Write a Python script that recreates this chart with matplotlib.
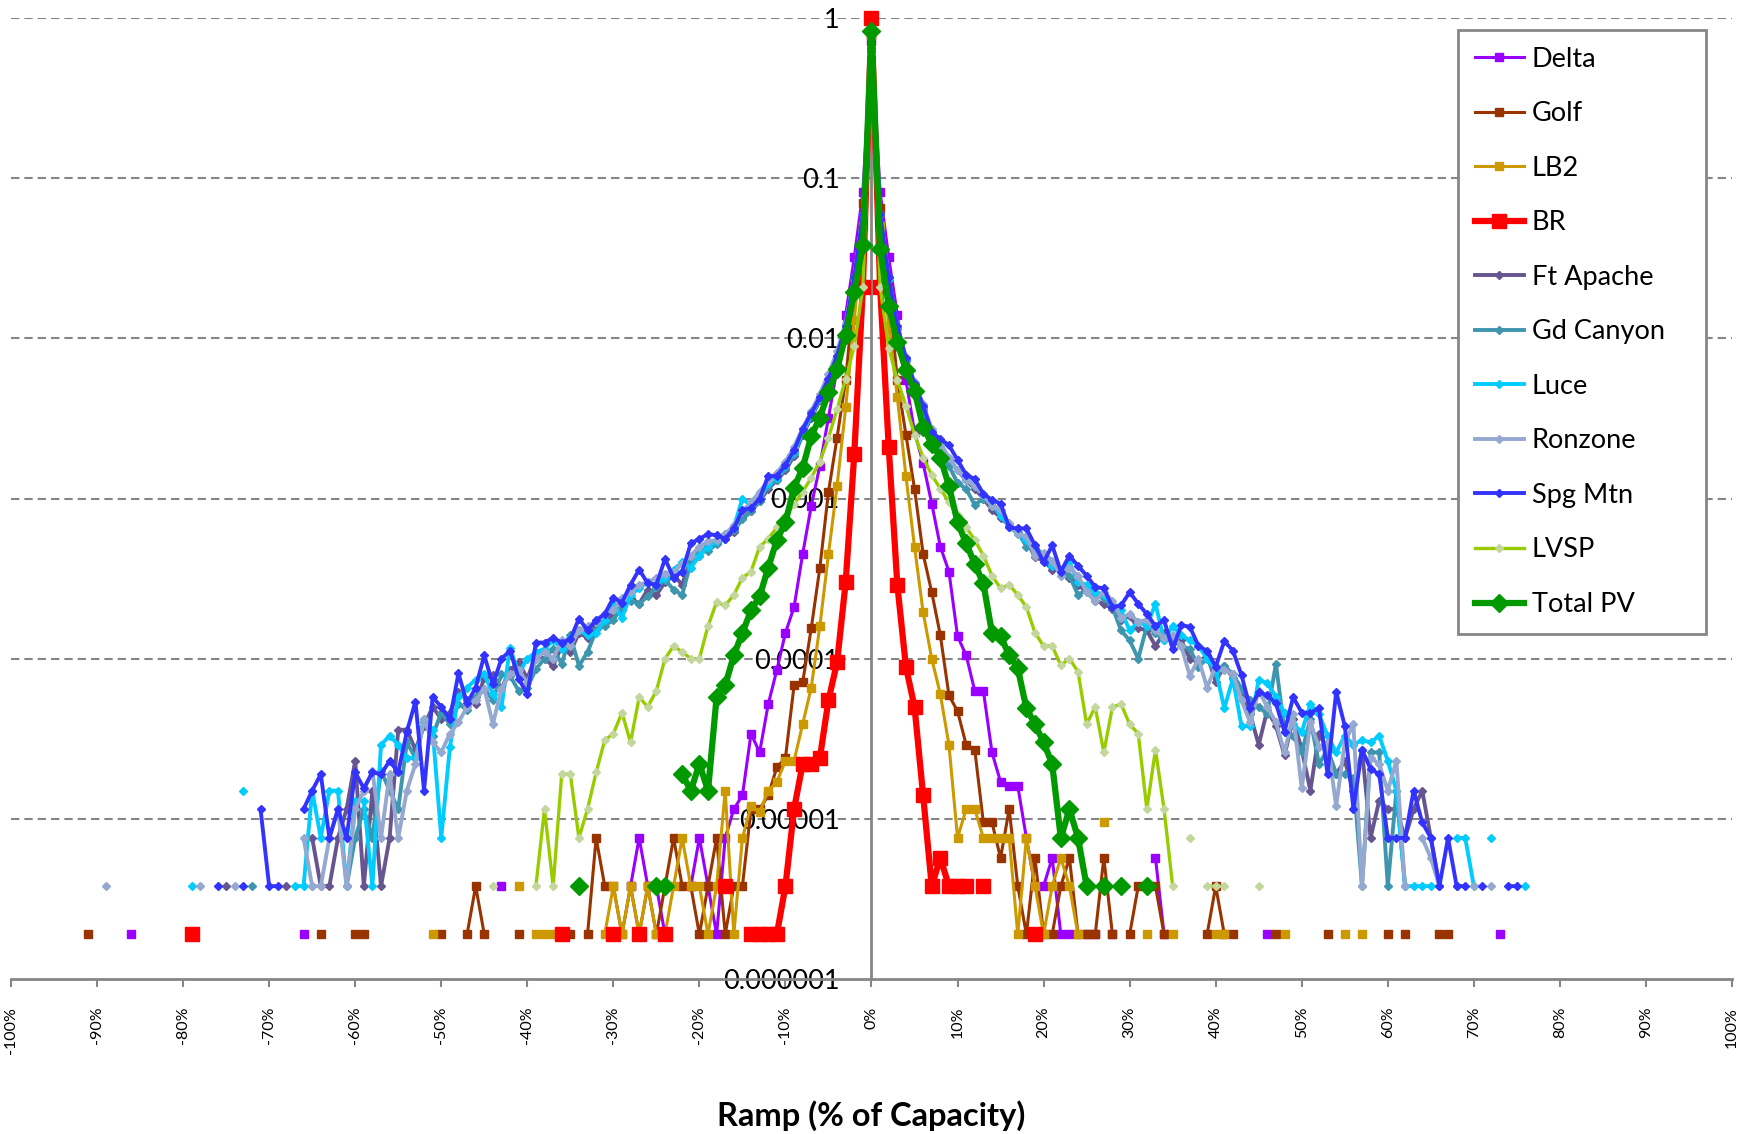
import matplotlib
matplotlib.use('Agg')
import matplotlib.pyplot as plt
from matplotlib.ticker import FixedLocator, FuncFormatter, NullLocator
import numpy as np

plt.rcParams['font.family'] = ['Lato', 'DejaVu Sans']

# ramp bins (% of capacity) and fraction of samples per bin, zero bins left out
delta_x = [-86, -66, -43, -28, -27, -26, -25, -24, *range(-21, 24), 25, 26, 28, 33, 34, 46, 73]
delta_y = [1.9e-6, 1.9e-6, 3.8e-6, 3.8e-6, 7.6e-6, 3.8e-6, 3.8e-6, 1.9e-6,
           3.8e-6, 7.6e-6, 3.8e-6, 1.9e-6, 7.6e-6, 1.15e-5, 1.4e-5, 3.4e-5, 2.6e-5, 5.2e-5,
           8.5e-5, 1.45e-4, 2.1e-4, 4.5e-4, 9.0e-4, 1.6e-3, 3.2e-3, 6.5e-3, 1.4e-2, 3.2e-2,
           8.2e-2, 0.72, 8.2e-2, 3.2e-2, 1.4e-2, 5.5e-3, 2.6e-3, 1.66e-3, 9.3e-4, 5.0e-4,
           3.5e-4, 1.38e-4, 1.05e-4, 6.3e-5, 6.3e-5, 2.6e-5, 1.7e-5, 1.6e-5, 1.6e-5, 7.6e-6,
           3.8e-6, 3.8e-6, 5.7e-6, 1.9e-6, 1.9e-6,
           1.9e-6, 1.9e-6, 1.9e-6, 5.7e-6, 1.9e-6, 1.9e-6, 1.9e-6]

golf_x = [-91, -64, -60, -59, -50, -47, -46, -45, -41, -35, *range(-33, 29),
          *range(30, 35), 39, 40, 41, 42, 47, 53, 60, 62, 66, 67]
golf_y = [1.9e-6, 1.9e-6, 1.9e-6, 1.9e-6, 1.9e-6, 1.9e-6, 3.8e-6, 1.9e-6, 1.9e-6, 1.9e-6,
          1.9e-6, 7.6e-6, 3.8e-6, 3.8e-6, 1.9e-6, 3.8e-6, 1.9e-6, 3.8e-6, 1.9e-6, 3.8e-6,
          7.6e-6, 3.8e-6, 3.8e-6, 1.9e-6, 3.8e-6, 7.6e-6, 1.9e-6, 3.8e-6, 3.8e-6, 1.15e-5,
          1.15e-5, 1.4e-5, 2.1e-5, 2.4e-5, 6.8e-5, 7.1e-5, 1.55e-4, 3.7e-4, 1.1e-3, 2.4e-3,
          5.5e-3, 2.0e-2, 7.0e-2, 0.78, 6.5e-2, 2.0e-2, 5.5e-3, 2.5e-3, 1.15e-3, 4.5e-4,
          2.6e-4, 1.4e-4, 5.9e-5, 4.7e-5, 2.9e-5, 2.7e-5, 9.5e-6, 9.5e-6, 5.7e-6, 1.15e-5,
          3.8e-6, 1.9e-6, 5.7e-6, 1.9e-6, 1.9e-6, 3.8e-6, 5.7e-6, 1.9e-6, 1.9e-6, 1.9e-6,
          5.7e-6, 1.9e-6,
          1.9e-6, 3.8e-6, 3.8e-6, 3.8e-6, 1.9e-6,
          1.9e-6, 3.8e-6, 1.9e-6, 1.9e-6, 1.9e-6, 1.9e-6, 1.9e-6, 1.9e-6, 1.9e-6, 1.9e-6]

lb2_x = [-51, -41, -39, -38, -37, *range(-31, 25), 27, 32, 35, 40, 41, 48, 55, 57]
lb2_y = [1.9e-6, 3.8e-6, 1.9e-6, 1.9e-6, 1.9e-6,
         1.9e-6, 3.8e-6, 1.9e-6, 3.8e-6, 1.9e-6, 3.8e-6, 1.9e-6, 1.9e-6, 3.8e-6, 7.6e-6,
         3.8e-6, 3.8e-6, 1.9e-6, 3.8e-6, 1.5e-5, 1.9e-6, 7.6e-6, 1.2e-5, 1.1e-5, 1.5e-5,
         1.7e-5, 2.3e-5, 2.3e-5, 3.9e-5, 6.6e-5, 1.6e-4, 4.5e-4, 1.2e-3, 3.7e-3, 1.3e-2,
         5.0e-2, 0.78, 5.0e-2, 1.2e-2, 4.3e-3, 1.38e-3, 5.0e-4, 1.95e-4, 1.0e-4, 6.0e-5,
         2.9e-5, 7.6e-6, 1.15e-5, 1.15e-5, 7.6e-6, 7.6e-6, 7.6e-6, 7.6e-6, 1.9e-6, 7.6e-6,
         3.8e-6, 1.9e-6, 3.8e-6, 5.7e-6, 3.8e-6, 1.9e-6,
         9.5e-6, 1.9e-6, 1.9e-6, 1.9e-6, 1.9e-6, 1.9e-6, 1.9e-6, 1.9e-6]

br_x = [-79, -36, -30, -27, -24, -17, *range(-14, 12), 13, 19]
br_y = [1.9e-6, 1.9e-6, 1.9e-6, 1.9e-6, 1.9e-6, 3.8e-6,
        1.9e-6, 1.9e-6, 1.9e-6, 1.9e-6, 3.8e-6, 1.15e-5, 2.2e-5, 2.2e-5, 2.4e-5, 5.5e-5,
        9.5e-5, 3.0e-4, 1.9e-3, 2.1e-2, 1.0, 2.1e-2, 2.1e-3, 2.9e-4, 8.9e-5, 5.0e-5,
        1.4e-5, 3.8e-6, 5.7e-6, 3.8e-6, 3.8e-6, 3.8e-6,
        3.8e-6, 1.9e-6]

ft_apache_x = [-75, -68, *range(-65, 67), 68]
ft_apache_y = [3.8e-6, 3.8e-6,
               7.6e-6, 3.8e-6, 3.8e-6, 7.6e-6, 1.15e-5, 2.3e-5, 3.8e-6, 1.5e-5, 3.8e-6, 7.6e-6,
               3.6e-5, 3.6e-5, 2.7e-5, 3.8e-5, 5.0e-5, 4.2e-5, 4.6e-5, 6.2e-5, 5.5e-5, 5.2e-5,
               7.6e-5, 7.9e-5, 6.5e-5, 8.5e-5, 9.5e-5, 7.5e-5, 1.05e-4, 1.0e-4, 9.0e-5, 1.2e-4,
               1.1e-4, 1.45e-4, 1.35e-4, 1.6e-4, 1.7e-4, 1.9e-4, 2.0e-4, 2.4e-4, 2.2e-4, 2.7e-4,
               2.5e-4, 3.0e-4, 3.3e-4, 2.9e-4, 4.2e-4, 4.4e-4, 5.2e-4, 5.3e-4, 5.6e-4, 6.2e-4,
               7.6e-4, 8.4e-4, 9.6e-4, 1.15e-3, 1.3e-3, 1.5e-3, 1.85e-3, 2.5e-3, 3.2e-3, 4.1e-3,
               5.4e-3, 7.6e-3, 1.15e-2, 2.3e-2, 5.8e-2, 0.66, 5.8e-2, 2.3e-2, 1.15e-2, 7.2e-3,
               5.0e-3, 3.6e-3, 2.6e-3, 2.1e-3, 1.75e-3, 1.5e-3, 1.3e-3, 1.15e-3, 1.0e-3, 8.5e-4,
               7.6e-4, 6.8e-4, 6.0e-4, 5.5e-4, 4.3e-4, 4.1e-4, 3.6e-4, 3.6e-4, 3.2e-4, 2.9e-4,
               2.6e-4, 2.3e-4, 2.2e-4, 2.05e-4, 1.75e-4, 1.85e-4, 1.55e-4, 1.5e-4, 1.2e-4, 1.45e-4,
               1.25e-4, 1.3e-4, 1.0e-4, 9.5e-5, 1.05e-4, 7.2e-5, 9.0e-5, 7.6e-5, 6.5e-5, 4.5e-5,
               2.9e-5, 4.8e-5, 3.8e-5, 2.5e-5, 4.2e-5, 2.7e-5, 1.5e-5, 3.4e-5, 2.7e-5, 1.9e-5,
               2.3e-5, 1.5e-5, 2.7e-5, 7.6e-6, 1.3e-5, 1.15e-5, 1.15e-5, 7.6e-6, 1.15e-5, 1.5e-5,
               7.6e-6, 3.8e-6,
               3.8e-6]

gd_canyon_x = [-72, -65, -63, *range(-61, 63)]
gd_canyon_y = [3.8e-6, 3.8e-6, 7.6e-6,
               3.8e-6, 7.6e-6, 1.15e-5, 7.6e-6, 2.0e-5, 1.5e-5, 1.15e-5, 3.0e-5, 2.4e-5, 4.0e-5,
               3.3e-5, 4.6e-5, 3.9e-5, 5.2e-5, 4.8e-5, 5.8e-5, 6.5e-5, 5.5e-5, 8.0e-5, 7.8e-5,
               6.3e-5, 6.6e-5, 8.6e-5, 1.0e-4, 1.15e-4, 9.3e-5, 1.4e-4, 9.0e-5, 1.1e-4, 1.5e-4,
               1.6e-4, 1.75e-4, 2.1e-4, 2.3e-4, 2.2e-4, 2.45e-4, 2.8e-4, 3.1e-4, 2.7e-4, 2.5e-4,
               4.0e-4, 4.6e-4, 4.7e-4, 5.2e-4, 5.8e-4, 6.4e-4, 7.4e-4, 8.3e-4, 9.6e-4, 1.2e-3,
               1.3e-3, 1.55e-3, 1.9e-3, 2.55e-3, 3.3e-3, 4.2e-3, 5.5e-3, 7.7e-3, 1.2e-2, 2.4e-2,
               6.0e-2, 0.66, 6.0e-2, 2.3e-2, 1.15e-2, 7.3e-3, 5.0e-3, 3.5e-3, 2.5e-3, 2.0e-3,
               1.6e-3, 1.25e-3, 1.15e-3, 9.1e-4, 1.0e-3, 9.0e-4, 8.0e-4, 6.6e-4, 6.2e-4, 5.0e-4,
               4.9e-4, 4.5e-4, 3.9e-4, 3.6e-4, 3.3e-4, 2.5e-4, 2.7e-4, 2.5e-4, 2.4e-4, 2.1e-4,
               1.5e-4, 1.3e-4, 1.0e-4, 1.6e-4, 1.45e-4, 1.3e-4, 1.35e-4, 1.2e-4, 1.15e-4, 8.9e-5,
               1.0e-4, 8.0e-5, 9.0e-5, 8.0e-5, 6.5e-5, 5.5e-5, 5.0e-5, 4.5e-5, 9.3e-5, 3.5e-5,
               3.3e-5, 2.6e-5, 4.2e-5, 2.2e-5, 2.7e-5, 1.9e-5, 1.9e-5, 1.8e-5, 3.8e-6, 2.6e-5,
               2.6e-5, 3.8e-6, 1.5e-5, 3.8e-6]

luce_x = [-79, -73, *range(-67, 66), 68, 69, 70, 72, 76]
luce_y = [3.8e-6, 1.5e-5,
          3.8e-6, 3.8e-6, 1.5e-5, 7.6e-6, 1.5e-5, 1.5e-5, 3.8e-6, 1.3e-5, 1.3e-5, 3.8e-6,
          2.9e-5, 3.3e-5, 2.9e-5, 2.4e-5, 2.4e-5, 4.2e-5, 3.6e-5, 7.6e-6, 2.8e-5, 5.8e-5,
          6.6e-5, 7.4e-5, 8.0e-5, 6.0e-5, 5.0e-5, 1.17e-4, 8.0e-5, 1.0e-4, 1.1e-4, 1.15e-4,
          1.3e-4, 1.15e-4, 1.35e-4, 1.5e-4, 1.4e-4, 1.45e-4, 1.75e-4, 2.2e-4, 1.8e-4, 2.5e-4,
          2.75e-4, 3.0e-4, 2.9e-4, 3.2e-4, 3.6e-4, 4.0e-4, 3.7e-4, 4.4e-4, 5.0e-4, 5.4e-4,
          6.0e-4, 6.6e-4, 1.0e-3, 9.0e-4, 1.0e-3, 1.25e-3, 1.35e-3, 1.6e-3, 1.95e-3, 2.6e-3,
          3.3e-3, 4.3e-3, 5.6e-3, 7.8e-3, 1.2e-2, 2.4e-2, 6.0e-2, 0.66, 6.0e-2, 2.35e-2,
          1.2e-2, 7.4e-3, 5.1e-3, 3.7e-3, 2.6e-3, 2.2e-3, 1.8e-3, 1.5e-3, 1.3e-3, 1.2e-3,
          1.05e-3, 9.5e-4, 7.8e-4, 6.8e-4, 6.0e-4, 5.5e-4, 4.6e-4, 4.4e-4, 3.8e-4, 3.6e-4,
          4.0e-4, 3.0e-4, 2.9e-4, 2.6e-4, 2.5e-4, 2.2e-4, 2.0e-4, 1.5e-4, 1.7e-4, 1.6e-4,
          2.2e-4, 1.3e-4, 1.6e-4, 1.4e-4, 1.3e-4, 1.2e-4, 1.0e-4, 8.5e-5, 4.9e-5, 7.5e-5,
          3.8e-5, 3.8e-5, 7.4e-5, 7.0e-5, 5.8e-5, 4.6e-5, 3.9e-5, 3.5e-5, 5.2e-5, 4.5e-5,
          3.3e-5, 2.6e-5, 3.3e-5, 2.9e-5, 3.1e-5, 3.0e-5, 3.3e-5, 2.3e-5, 1.5e-5, 3.8e-6,
          3.8e-6, 3.8e-6, 3.8e-6,
          7.6e-6, 7.6e-6, 3.8e-6, 7.6e-6, 3.8e-6]

ronzone_x = [-89, -78, -74, *range(-66, 63), 64, 65, 66, 70, 72]
ronzone_y = [3.8e-6, 3.8e-6, 3.8e-6,
             7.6e-6, 3.8e-6, 3.8e-6, 7.6e-6, 1.15e-5, 3.8e-6, 1.15e-5, 1.5e-5, 2.0e-5, 7.6e-6,
             1.9e-5, 7.6e-6, 1.5e-5, 2.2e-5, 4.2e-5, 3.0e-5, 2.6e-5, 3.4e-5, 4.0e-5, 5.0e-5,
             5.5e-5, 6.5e-5, 3.9e-5, 6.5e-5, 8.0e-5, 8.5e-5, 7.0e-5, 1.0e-4, 1.1e-4, 1.0e-4,
             1.3e-4, 1.2e-4, 1.5e-4, 1.6e-4, 1.7e-4, 1.9e-4, 2.0e-4, 2.4e-4, 2.6e-4, 2.9e-4,
             3.0e-4, 3.2e-4, 3.4e-4, 3.5e-4, 3.9e-4, 4.4e-4, 5.0e-4, 5.4e-4, 5.5e-4, 6.0e-4,
             6.8e-4, 8.3e-4, 9.5e-4, 1.1e-3, 1.3e-3, 1.45e-3, 1.7e-3, 2.1e-3, 2.75e-3, 3.5e-3,
             4.5e-3, 6.0e-3, 8.3e-3, 1.25e-2, 2.4e-2, 6.0e-2, 0.66, 6.0e-2, 2.4e-2, 1.2e-2,
             7.6e-3, 5.3e-3, 3.9e-3, 2.7e-3, 2.2e-3, 1.8e-3, 1.5e-3, 1.3e-3, 1.2e-3, 1.05e-3,
             9.0e-4, 8.5e-4, 7.0e-4, 6.0e-4, 5.8e-4, 4.4e-4, 4.6e-4, 4.1e-4, 3.3e-4, 3.7e-4,
             3.3e-4, 2.6e-4, 2.3e-4, 2.6e-4, 2.3e-4, 1.8e-4, 1.9e-4, 1.7e-4, 1.75e-4, 1.5e-4,
             1.35e-4, 1.4e-4, 1.2e-4, 7.8e-5, 1.0e-4, 6.6e-5, 9.0e-5, 8.5e-5, 8.0e-5, 5.5e-5,
             4.0e-5, 6.3e-5, 5.0e-5, 4.0e-5, 2.6e-5, 4.5e-5, 1.55e-5, 4.0e-5, 2.8e-5, 3.0e-5,
             1.2e-5, 3.0e-5, 3.9e-5, 3.8e-6, 2.4e-5, 2.2e-5, 1.5e-5, 2.3e-5, 3.8e-6,
             7.6e-6, 5.7e-6, 3.8e-6, 3.8e-6, 3.8e-6]

spg_mtn_x = [-76, -73, *range(-71, -68), *range(-66, 70), 71, 74, 75]
spg_mtn_y = [3.8e-6, 3.8e-6, 1.15e-5, 3.8e-6, 3.8e-6,
             1.15e-5, 1.5e-5, 1.9e-5, 7.6e-6, 1.15e-5, 7.6e-6, 1.95e-5, 1.55e-5, 1.95e-5, 1.9e-5,
             2.3e-5, 1.95e-5, 3.5e-5, 5.4e-5, 1.5e-5, 5.75e-5, 5.0e-5, 4.2e-5, 8.1e-5, 5.25e-5,
             6.6e-5, 1.05e-4, 6.9e-5, 1.0e-4, 1.12e-4, 7.5e-5, 6.0e-5, 1.26e-4, 1.26e-4, 1.35e-4,
             1.26e-4, 1.32e-4, 1.78e-4, 1.5e-4, 1.74e-4, 1.9e-4, 2.4e-4, 2.24e-4, 2.9e-4, 3.6e-4,
             2.95e-4, 2.9e-4, 4.2e-4, 3.2e-4, 3.5e-4, 5.25e-4, 5.6e-4, 6.0e-4, 5.9e-4, 5.6e-4,
             6.5e-4, 8.5e-4, 8.7e-4, 1.0e-3, 1.38e-3, 1.38e-3, 1.62e-3, 2.0e-3, 2.7e-3, 3.4e-3,
             4.3e-3, 5.6e-3, 7.8e-3, 1.2e-2, 2.4e-2, 6.0e-2, 0.65, 6.0e-2, 2.4e-2, 1.2e-2,
             7.5e-3, 5.2e-3, 3.8e-3, 2.6e-3, 2.35e-3, 2.15e-3, 1.74e-3, 1.41e-3, 1.32e-3, 1.07e-3,
             9.8e-4, 9.3e-4, 6.6e-4, 6.5e-4, 6.5e-4, 5.1e-4, 4.0e-4, 5.1e-4, 3.5e-4, 4.4e-4,
             3.8e-4, 3.3e-4, 2.8e-4, 2.75e-4, 2.1e-4, 2.15e-4, 2.6e-4, 2.2e-4, 1.9e-4, 1.6e-4,
             1.74e-4, 1.15e-4, 1.62e-4, 1.58e-4, 1.2e-4, 1.12e-4, 8.9e-5, 1.29e-4, 1.12e-4, 7.9e-5,
             4.9e-5, 6.2e-5, 5.9e-5, 5.25e-5, 3.5e-5, 5.75e-5, 4.6e-5, 4.6e-5, 4.9e-5, 1.9e-5,
             6.2e-5, 3.8e-5, 1.15e-5, 2.7e-5, 2.05e-5, 1.9e-5, 7.6e-6, 7.6e-6, 7.6e-6, 1.5e-5,
             9.5e-6, 7.6e-6, 3.8e-6, 7.6e-6, 3.8e-6, 3.8e-6,
             3.8e-6, 3.8e-6, 3.8e-6]

lvsp_x = [-44, *range(-39, 36), 37, 39, 40, 41, 45]
lvsp_y = [3.8e-6,
          3.8e-6, 1.15e-5, 3.8e-6, 1.9e-5, 1.9e-5, 7.6e-6, 1.15e-5, 1.95e-5, 3.1e-5, 3.4e-5,
          4.6e-5, 3.0e-5, 5.75e-5, 5.0e-5, 6.3e-5, 1.0e-4, 1.2e-4, 1.1e-4, 1.0e-4, 1.0e-4,
          1.6e-4, 2.25e-4, 2.15e-4, 2.5e-4, 3.2e-4, 3.5e-4, 5.0e-4, 5.6e-4, 6.6e-4, 7.8e-4,
          9.2e-4, 1.1e-3, 1.35e-3, 1.7e-3, 2.4e-3, 3.6e-3, 5.6e-3, 8.9e-3, 2.1e-2, 0.6,
          2.1e-2, 8.7e-3, 5.5e-3, 3.8e-3, 2.5e-3, 1.8e-3, 1.4e-3, 1.15e-3, 9.5e-4, 7.9e-4,
          6.6e-4, 5.5e-4, 4.4e-4, 3.3e-4, 2.75e-4, 2.9e-4, 2.5e-4, 2.1e-4, 1.45e-4, 1.2e-4,
          1.2e-4, 9.1e-5, 1.0e-4, 8.3e-5, 3.9e-5, 5.0e-5, 2.6e-5, 5.0e-5, 5.2e-5, 3.9e-5,
          3.4e-5, 1.15e-5, 2.7e-5, 1.15e-5, 3.8e-6,
          7.6e-6, 3.8e-6, 3.8e-6, 3.8e-6, 3.8e-6]

total_pv_x = [-34, -25, -24, *range(-22, 26), 27, 29, 32]
total_pv_y = [3.8e-6, 3.8e-6, 3.8e-6,
              1.9e-5, 1.5e-5, 2.2e-5, 1.5e-5, 5.75e-5, 6.8e-5, 1.05e-4, 1.45e-4, 2.0e-4, 2.45e-4,
              3.7e-4, 5.5e-4, 7.1e-4, 1.17e-3, 1.55e-3, 2.45e-3, 3.2e-3, 4.6e-3, 6.4e-3, 1.05e-2,
              1.95e-2, 3.8e-2, 0.83, 3.6e-2, 1.6e-2, 9.5e-3, 6.3e-3, 4.7e-3, 2.8e-3, 2.2e-3,
              1.8e-3, 1.2e-3, 7.1e-4, 5.25e-4, 3.9e-4, 2.95e-4, 1.45e-4, 1.38e-4, 1.05e-4, 8.7e-5,
              4.9e-5, 3.9e-5, 3.0e-5, 2.2e-5, 7.6e-6, 1.15e-5, 7.6e-6, 3.8e-6,
              3.8e-6, 3.8e-6, 3.8e-6]

x_ticks = list(range(-100, 101, 10))
y_ticks = [1e-6, 1e-5, 1e-4, 1e-3, 1e-2, 1e-1, 1]

series = [
    ('Delta', delta_x, delta_y, dict(color='#9900FF', marker='s', ms=5.5, lw=2.2)),
    ('Golf', golf_x, golf_y, dict(color='#993300', marker='s', ms=5.5, lw=2.2)),
    ('LB2', lb2_x, lb2_y, dict(color='#CC9900', marker='s', ms=5.5, lw=2.2)),
    ('BR', br_x, br_y, dict(color='#FF0000', marker='s', ms=10, lw=4.5)),
    ('Ft Apache', ft_apache_x, ft_apache_y, dict(color='#67558F', marker='D', ms=4.4, lw=2.8)),
    ('Gd Canyon', gd_canyon_x, gd_canyon_y, dict(color='#3E96AE', marker='D', ms=4.4, lw=2.8)),
    ('Luce', luce_x, luce_y, dict(color='#00CCFF', marker='D', ms=4.4, lw=2.8)),
    ('Ronzone', ronzone_x, ronzone_y, dict(color='#94A8D0', marker='D', ms=4.4, lw=2.8)),
    ('Spg Mtn', spg_mtn_x, spg_mtn_y, dict(color='#3333FF', marker='D', ms=4.4, lw=2.8)),
    ('LVSP', lvsp_x, lvsp_y, dict(color='#99CC00', marker='D', ms=4.4, lw=2.4,
                                  mfc='#C3D69B', mec='#C3D69B')),
    ('Total PV', total_pv_x, total_pv_y, dict(color='#009900', marker='D', ms=9.5, lw=4.5)),
]


def with_gaps(xs, ys):
    """Break the line wherever a ramp bin is missing (zero count)"""
    px, py = [], []
    for i, (x, y) in enumerate(zip(xs, ys)):
        if i and x - xs[i - 1] > 1:
            px.append(np.nan)
            py.append(np.nan)
        px.append(x)
        py.append(y)
    return px, py


fig = plt.figure(figsize=(17.58, 11.34), dpi=100)
ax = fig.add_axes([11 / 1758, 1 - 979 / 1134, 1721 / 1758, 961 / 1134])

for name, xs, ys, style in series:
    if len(xs) != len(ys):
        raise ValueError(f'{name}: {len(xs)} x vs {len(ys)} y')
    px, py = with_gaps(xs, ys)
    ax.plot(px, py, label=name, clip_on=False, zorder=2, **style)

ax.set_yscale('log')
ax.set_ylim(1e-6, 1)
ax.set_xlim(-100, 100)

# dashed decade gridlines
for v in y_ticks[1:]:
    ax.axhline(v, color='#868686', lw=1.5, ls=(0, (4, 2.4)), zorder=0.5)

ax.yaxis.set_major_locator(FixedLocator(y_ticks))
ax.yaxis.set_minor_locator(NullLocator())
ax.yaxis.set_major_formatter(FuncFormatter(
    lambda v, pos: f'{v:.{max(0, int(round(-np.log10(v))))}f}'))
ax.tick_params(axis='y', length=0, pad=23, labelsize=19.5)

ax.set_xticks(x_ticks)
ax.set_xticklabels([f'{v}%' for v in x_ticks], rotation=90)
ax.tick_params(axis='x', direction='out', length=6, width=1.5, color='#868686',
               pad=14, labelsize=11.5)

for s in ['top', 'right']:
    ax.spines[s].set_visible(False)
ax.spines['left'].set_position(('data', 0))
ax.spines['left'].set_color('#868686')
ax.spines['left'].set_linewidth(2)
ax.spines['left'].set_zorder(1)
ax.spines['bottom'].set_color('#868686')
ax.spines['bottom'].set_linewidth(2)

ax.set_xlabel('Ramp (% of Capacity)', fontsize=23.5, fontweight='bold')
ax.xaxis.set_label_coords(0.5, -0.1426)
ax.xaxis.label.set_va('center')

leg = ax.legend(loc='upper left', bbox_to_anchor=(1458 / 1758, 0.4444, 248 / 1758, 1 - 30 / 1134 - 0.4444),
                bbox_transform=fig.transFigure, mode='expand', fontsize=19.5,
                labelspacing=1.09, borderpad=0.62, handlelength=1.8, handletextpad=0.3,
                fancybox=False, framealpha=1, borderaxespad=0)
leg.get_frame().set_edgecolor('#868686')
leg.get_frame().set_linewidth(2)
leg.set_zorder(5)

fig.savefig('out.png', dpi=100)
plt.close(fig)
